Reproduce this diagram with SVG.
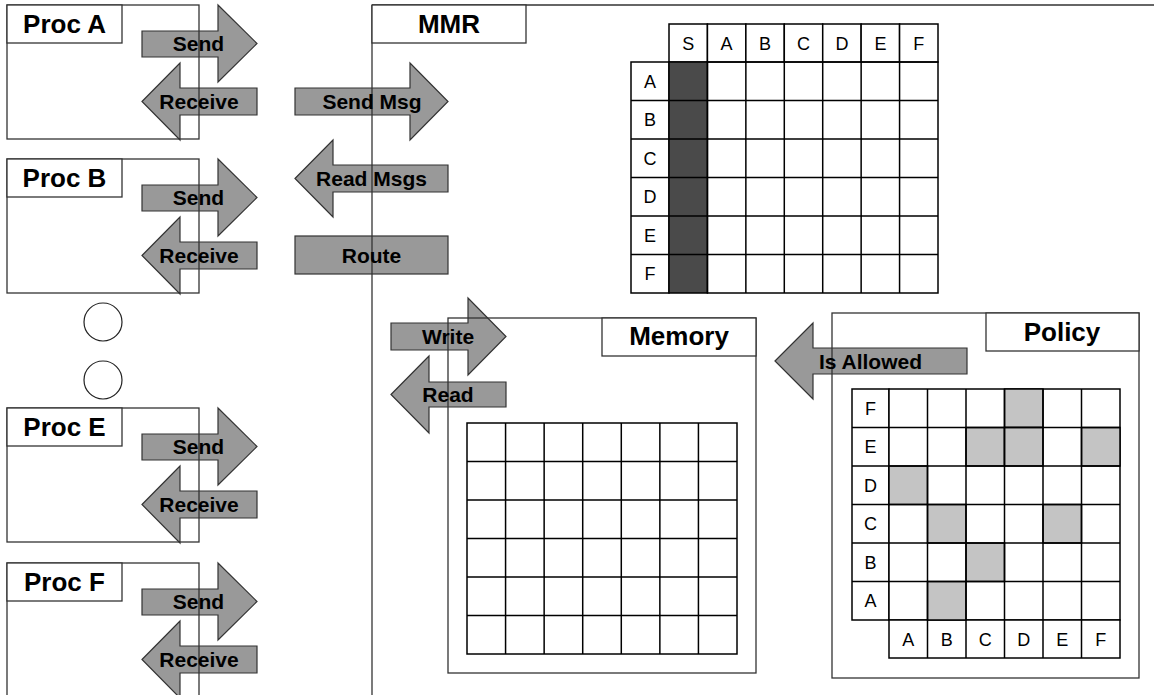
<svg xmlns="http://www.w3.org/2000/svg" width="1154" height="695" viewBox="0 0 1154 695">
<defs>
<style>
.bg{fill:#fff}
.arrow{fill:#999;stroke:#333;stroke-width:1.2;stroke-linejoin:miter}
.box{fill:none;stroke:#333;stroke-width:1.3}
.tbox{fill:#fff;stroke:#333;stroke-width:1.3}
.title{font-family:"Liberation Sans",Arial,sans-serif;font-weight:bold;font-size:26px;fill:#000;text-anchor:middle}
.alabel{font-family:"Liberation Sans",Arial,sans-serif;font-weight:bold;font-size:21px;fill:#000;text-anchor:middle}
.cell{fill:#fff;stroke:#000;stroke-width:1.5}
.grid{fill:none;stroke:#000;stroke-width:1.5}
.dark{fill:#4a4a4a;stroke:#000;stroke-width:1.5}
.light{fill:#c4c4c4;stroke:#000;stroke-width:1.5}
.lbl{font-family:"Liberation Sans",Arial,sans-serif;font-size:18px;fill:#000;text-anchor:middle}
.dot{fill:#fff;stroke:#222;stroke-width:1.2}
</style>
<polygon id="rarrow" class="arrow" points="142,31 218,31 218,5 257,43.5 218,82 218,57 142,57"/>
<polygon id="larrow" class="arrow" points="142,101.5 180,63 180,88 257,88 257,115 180,115 180,140"/>
</defs>
<rect class="bg" x="0" y="0" width="1154" height="695"/>

<g id="connectors">
  <use href="#rarrow"/><use href="#larrow"/>
  <use href="#rarrow" transform="translate(0,154)"/><use href="#larrow" transform="translate(0,154)"/>
  <use href="#rarrow" transform="translate(0,403)"/><use href="#larrow" transform="translate(0,403)"/>
  <use href="#rarrow" transform="translate(0,558)"/><use href="#larrow" transform="translate(0,558)"/>
  <polygon class="arrow" points="295,88 410,88 410,63 448,101.5 410,140 410,115 295,115"/>
  <polygon class="arrow" points="295,178.5 333,140 333,165 448,165 448,192 333,192 333,217"/>
  <rect class="arrow" x="295" y="236" width="153" height="38"/>
  <polygon class="arrow" points="391,323 468,323 468,298 506,336.5 468,375 468,350 391,350"/>
  <polygon class="arrow" points="391,394.5 429,356 429,382 506,382 506,407 429,407 429,433"/>
  <polygon class="arrow" points="775,361 813,323 813,348 967,348 967,374 813,374 813,399"/>
</g>

<g id="proc-a">
  <rect class="box" x="7" y="5" width="192" height="134"/>
  <rect class="tbox" x="7" y="5" width="115" height="38"/>
  <text class="title" x="64.5" y="33">Proc A</text>
</g>
<g id="proc-b">
  <rect class="box" x="7" y="159" width="192" height="134"/>
  <rect class="tbox" x="7" y="159" width="115" height="38"/>
  <text class="title" x="64.5" y="187">Proc B</text>
</g>
<g id="ellipsis">
  <circle class="dot" cx="103" cy="322" r="19"/>
  <circle class="dot" cx="103" cy="380" r="19"/>
</g>
<g id="proc-e">
  <rect class="box" x="7" y="408" width="192" height="134"/>
  <rect class="tbox" x="7" y="408" width="115" height="38"/>
  <text class="title" x="64.5" y="436">Proc E</text>
</g>
<g id="proc-f">
  <rect class="box" x="7" y="563" width="192" height="140"/>
  <rect class="tbox" x="7" y="563" width="115" height="38"/>
  <text class="title" x="64.5" y="591">Proc F</text>
</g>

<g id="mmr">
  <line x1="372" y1="5" x2="1154" y2="5" stroke="#333" stroke-width="1.3"/>
  <line x1="372" y1="5" x2="372" y2="695" stroke="#333" stroke-width="1.3"/>
  <rect class="tbox" x="372" y="5" width="154" height="38"/>
  <text class="title" x="449" y="33">MMR</text>
</g>

<g id="routing-matrix">
  <rect class="cell" x="669" y="24" width="38.43" height="38"/>
  <rect class="cell" x="707.43" y="24" width="38.43" height="38"/>
  <rect class="cell" x="745.86" y="24" width="38.43" height="38"/>
  <rect class="cell" x="784.29" y="24" width="38.43" height="38"/>
  <rect class="cell" x="822.71" y="24" width="38.43" height="38"/>
  <rect class="cell" x="861.14" y="24" width="38.43" height="38"/>
  <rect class="cell" x="899.57" y="24" width="38.43" height="38"/>
  <rect class="cell" x="631" y="62" width="38" height="231"/>
  <rect class="dark" x="669" y="62" width="38.43" height="231"/>
  <rect class="grid" x="707.43" y="62" width="230.57" height="231"/>
  <path class="grid" d="M631,100.5H938M631,139H938M631,177.5H938M631,216H938M631,254.5H938M745.86,62V293M784.29,62V293M822.71,62V293M861.14,62V293M899.57,62V293"/>
  <text class="lbl" x="688.2" y="49.5">S</text>
  <text class="lbl" x="726.6" y="49.5">A</text>
  <text class="lbl" x="765.1" y="49.5">B</text>
  <text class="lbl" x="803.5" y="49.5">C</text>
  <text class="lbl" x="841.9" y="49.5">D</text>
  <text class="lbl" x="880.4" y="49.5">E</text>
  <text class="lbl" x="918.8" y="49.5">F</text>
  <text class="lbl" x="650" y="87.8">A</text>
  <text class="lbl" x="650" y="126.3">B</text>
  <text class="lbl" x="650" y="164.8">C</text>
  <text class="lbl" x="650" y="203.3">D</text>
  <text class="lbl" x="650" y="241.8">E</text>
  <text class="lbl" x="650" y="280.3">F</text>
</g>

<g id="memory">
  <rect class="box" x="448" y="318" width="308" height="355"/>
  <rect class="tbox" x="602" y="318" width="154" height="38"/>
  <text class="title" x="679" y="345">Memory</text>
  <rect class="grid" x="467" y="423" width="270" height="231"/>
  <path class="grid" d="M467,461.5H737M467,500H737M467,538.5H737M467,577H737M467,615.5H737M505.57,423V654M544.14,423V654M582.71,423V654M621.29,423V654M659.86,423V654M698.43,423V654"/>
</g>

<g id="policy">
  <rect class="box" x="832" y="313" width="307" height="365"/>
  <rect class="tbox" x="986" y="313" width="153" height="38"/>
  <text class="title" x="1062" y="341">Policy</text>
  <rect class="cell" x="852" y="389" width="37" height="231"/>
  <rect class="cell" x="889" y="389" width="231" height="231"/>
  <rect class="cell" x="889" y="620" width="231" height="38"/>
  <rect class="light" x="1004.5" y="389" width="38.5" height="38.5"/>
  <rect class="light" x="966" y="427.5" width="38.5" height="38.5"/>
  <rect class="light" x="1004.5" y="427.5" width="38.5" height="38.5"/>
  <rect class="light" x="1081.5" y="427.5" width="38.5" height="38.5"/>
  <rect class="light" x="889" y="466" width="38.5" height="38.5"/>
  <rect class="light" x="927.5" y="504.5" width="38.5" height="38.5"/>
  <rect class="light" x="1043" y="504.5" width="38.5" height="38.5"/>
  <rect class="light" x="966" y="543" width="38.5" height="38.5"/>
  <rect class="light" x="927.5" y="581.5" width="38.5" height="38.5"/>
  <path class="grid" d="M852,427.5H1120M852,466H1120M852,504.5H1120M852,543H1120M852,581.5H1120M927.5,389V658M966,389V658M1004.5,389V658M1043,389V658M1081.5,389V658"/>
  <text class="lbl" x="870.5" y="414.8">F</text>
  <text class="lbl" x="870.5" y="453.3">E</text>
  <text class="lbl" x="870.5" y="491.8">D</text>
  <text class="lbl" x="870.5" y="530.3">C</text>
  <text class="lbl" x="870.5" y="568.8">B</text>
  <text class="lbl" x="870.5" y="607.3">A</text>
  <text class="lbl" x="908.3" y="645.5">A</text>
  <text class="lbl" x="946.8" y="645.5">B</text>
  <text class="lbl" x="985.3" y="645.5">C</text>
  <text class="lbl" x="1023.8" y="645.5">D</text>
  <text class="lbl" x="1062.3" y="645.5">E</text>
  <text class="lbl" x="1100.8" y="645.5">F</text>
</g>

<g id="connector-labels">
  <text class="alabel" x="198.5" y="51">Send</text>
  <text class="alabel" x="199" y="108.5">Receive</text>
  <text class="alabel" x="198.5" y="205">Send</text>
  <text class="alabel" x="199" y="262.5">Receive</text>
  <text class="alabel" x="198.5" y="454">Send</text>
  <text class="alabel" x="199" y="511.5">Receive</text>
  <text class="alabel" x="198.5" y="609">Send</text>
  <text class="alabel" x="199" y="666.5">Receive</text>
  <text class="alabel" x="372" y="108.5">Send Msg</text>
  <text class="alabel" x="371.5" y="185.5">Read Msgs</text>
  <text class="alabel" x="371.5" y="262.5">Route</text>
  <text class="alabel" x="448" y="344">Write</text>
  <text class="alabel" x="448" y="401.5">Read</text>
  <text class="alabel" x="870.5" y="368.5">Is Allowed</text>
</g>
</svg>
